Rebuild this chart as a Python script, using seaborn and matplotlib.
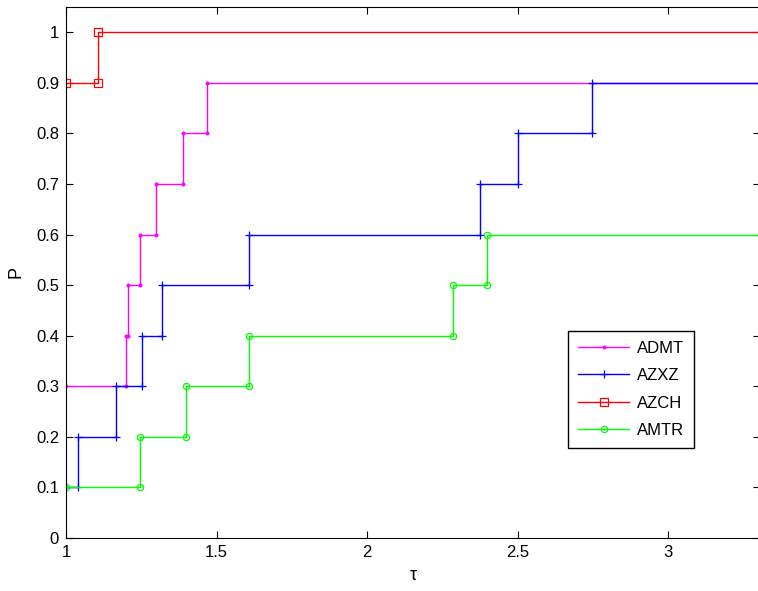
import numpy as np
import pandas as pd
import matplotlib
matplotlib.use("Agg")
import matplotlib.pyplot as plt
import seaborn as sns

# ── Data (performance profile steps) ─────────────────────
solvers = ["ADMT", "AZXZ", "AZCH", "AMTR"]
admt_tau = [1.0, 1.200, 1.207, 1.246, 1.299, 1.390, 1.467]
admt_p = [0.3, 0.4, 0.5, 0.6, 0.7, 0.8, 0.9]
azxz_tau = [1.0, 1.039, 1.166, 1.251, 1.320, 1.609, 2.375, 2.500, 2.748]
azxz_p = [0.1, 0.2, 0.3, 0.4, 0.5, 0.6, 0.7, 0.8, 0.9]
azch_tau = [1.0, 1.107]
azch_p = [0.9, 1.0]
amtr_tau = [1.0, 1.246, 1.399, 1.609, 2.285, 2.398]
amtr_p = [0.1, 0.2, 0.3, 0.4, 0.5, 0.6]
tau_end = 3.5

x_ticks = [1, 1.5, 2, 2.5, 3]
y_ticks = [0, 0.1, 0.2, 0.3, 0.4, 0.5, 0.6, 0.7, 0.8, 0.9, 1]

STYLE = {
    "ADMT": dict(color="#FF00FF", marker=".", ms=4, mfc="#FF00FF"),
    "AZXZ": dict(color="#0000FF", marker="+", ms=6, mfc="#0000FF"),
    "AZCH": dict(color="#FF0000", marker="s", ms=6, mfc="none"),
    "AMTR": dict(color="#00FF00", marker="o", ms=4.5, mfc="none"),
}


def stair_path(tau, p, end):
    """corner points of a stairs plot, like MATLAB stairs()"""
    xs, ys = [tau[0]], [p[0]]
    for i in range(1, len(tau)):
        xs += [tau[i], tau[i]]
        ys += [p[i - 1], p[i]]
    xs.append(end)
    ys.append(p[-1])
    return xs, ys


series = {
    "ADMT": (admt_tau, admt_p),
    "AZXZ": (azxz_tau, azxz_p),
    "AZCH": (azch_tau, azch_p),
    "AMTR": (amtr_tau, amtr_p),
}

plt.rcParams["font.family"] = ["Liberation Sans", "DejaVu Sans"]
plt.rcParams["xtick.direction"] = "in"
plt.rcParams["ytick.direction"] = "in"

fig = plt.figure(figsize=(7.58, 5.91), dpi=100)
ax = fig.add_axes([66 / 758, 53 / 591, 694 / 758, 531 / 591])

for name in solvers:
    xs, ys = stair_path(*series[name], tau_end)
    df = pd.DataFrame({"tau": xs, "P": ys})
    st = STYLE[name]
    sns.lineplot(data=df, x="tau", y="P", sort=False, estimator=None, ax=ax,
                 color=st["color"], marker=st["marker"], markersize=st["ms"],
                 markerfacecolor=st["mfc"], markeredgecolor=st["color"],
                 markeredgewidth=0.9, linewidth=1.0, label=name)

ax.set_xlim(1, 1 + 694 / 301)
ax.set_ylim(0, 1.05)
ax.set_xticks(x_ticks)
ax.set_xticklabels([f"{t:g}" for t in x_ticks])
ax.set_yticks(y_ticks)
ax.set_yticklabels([f"{t:g}" for t in y_ticks])
ax.tick_params(labelsize=12, length=5, width=0.8, top=True, right=True, pad=5)
ax.set_xlabel("τ", fontsize=13, labelpad=5)
ax.set_ylabel("P", fontsize=13, labelpad=8)
for sp in ax.spines.values():
    sp.set_linewidth(0.8)

leg = ax.legend(loc="lower left", bbox_to_anchor=(0.723, 0.169), fontsize=12,
                fancybox=False, framealpha=1, edgecolor="black", numpoints=1,
                handlelength=3.1, labelspacing=0.75, borderpad=0.6,
                handletextpad=0.45, borderaxespad=0)
leg.get_frame().set_linewidth(1.0)

fig.savefig("out.png", dpi=100)
plt.close(fig)
